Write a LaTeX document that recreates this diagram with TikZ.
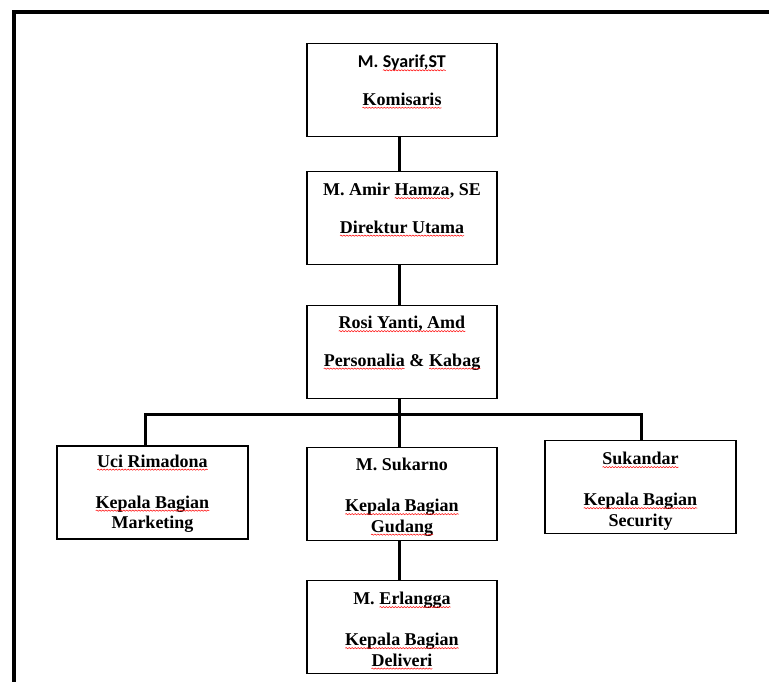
\documentclass[tikz,border=0pt]{standalone}
\usepackage{fontspec}
\setmainfont{Liberation Serif}
\newfontfamily\calibrifont{Carlito}
\usepackage{tikz}
\usetikzlibrary{positioning, decorations.pathmorphing}

% red spell-check wave under a word
\newcommand{\salah}[1]{\tikz[baseline=(w.base)]{\node[inner sep=0pt, outer sep=0pt] (w) {#1};
  \draw[red, line width=0.5pt, decorate, decoration={snake, amplitude=0.6pt, segment length=3pt}]
    ([yshift=-2.6pt]w.base west) -- ([yshift=-2.6pt]w.base east);}}

\tikzset{
  kotak/.style={draw, line width=1.3pt, minimum width=190pt, minimum height=93pt, inner sep=0pt},
  teks/.style={font=\fontsize{18}{20.5}\selectfont\bfseries, align=center, inner sep=0pt},
  garis/.style={line width=3pt}
}

\begin{document}
\begin{tikzpicture}[x=1pt, y=1pt]
\clip (0,0) rectangle (769,681);
\useasboundingbox (0,0) rectangle (769,681);
% frame
\draw[line width=4pt] (14,-20) -- (14,669) -- (800,669);

% boxes
\node[kotak] (kom) at (402,591) {};
\node[kotak] (dir) at (402,463) {};
\node[kotak] (pers) at (402,329) {};
\node[kotak, minimum width=191pt] (mkt) at (152.5,188.5) {};
\node[kotak] (gud) at (402,187) {};
\node[kotak, minimum width=191pt] (sec) at (640.5,194) {};
\node[kotak] (del) at (402,54) {};

% texts
\node[teks, below=12pt of kom.north] (komT) {{\calibrifont M. \salah{Syarif,ST}}\\[17pt]\salah{Komisaris}};
\node[teks, below=12pt of dir.north] (dirT) {M. Amir \salah{Hamza}, SE\\[17pt]\salah{Direktur Utama}};
\node[teks, below=11pt of pers.north] (persT) {\salah{Rosi Yanti, Amd}\\[17pt]\salah{Personalia} \& \salah{Kabag}};
\node[teks, below=9pt of mkt.north] (mktT) {\salah{Uci Rimadona}\\[20.5pt]\salah{Kepala Bagian}\\Marketing};
\node[teks, below=11pt of gud.north] (gudT) {M. Sukarno\\[20.5pt]\salah{Kepala Bagian}\\\salah{Gudang}};
\node[teks, below=12pt of sec.north] (secT) {\salah{Sukandar}\\[20.5pt]\salah{Kepala Bagian}\\Security};
\node[teks, below=12pt of del.north] (delT) {M. \salah{Erlangga}\\[20.5pt]\salah{Kepala Bagian}\\\salah{Deliveri}};

% connectors
\coordinate (bus) at (399,266);
\coordinate (busL) at (145,266);
\coordinate (busR) at (641,266);
\draw[garis] (kom.south -| bus) -- (dir.north -| bus);
\draw[garis] (dir.south -| bus) -- (pers.north -| bus);
\draw[garis] (pers.south -| bus) -- (bus);
\draw[garis] (mkt.north -| busL) -- (busL) -- (busR) -- (sec.north -| busR);
\draw[garis] (bus) -- (gud.north -| bus);
\draw[garis] (gud.south -| bus) -- (del.north -| bus);
\end{tikzpicture}
\end{document}
